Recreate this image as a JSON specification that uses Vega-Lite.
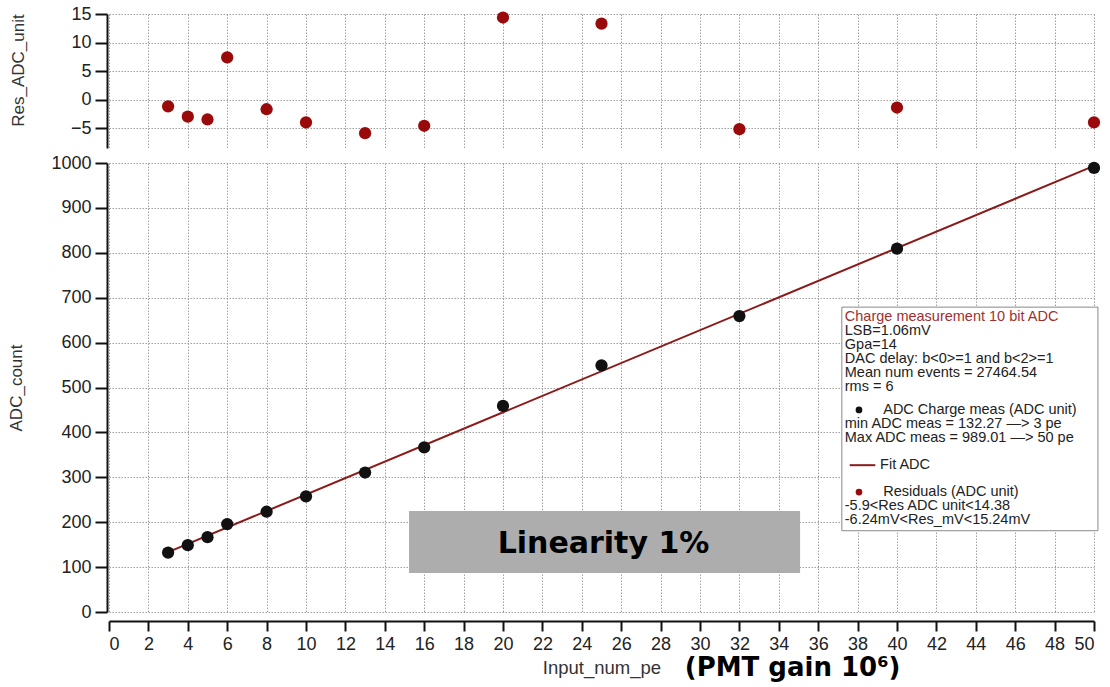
{
  "$schema": "https://vega.github.io/schema/vega-lite/v6.json",
  "padding": {"left": 7, "top": 5, "right": 5, "bottom": 5},
  "config": {
    "font": "Liberation Sans",
    "view": {"stroke": null},
    "axis": {"labelFontSize": 18, "labelColor": "#222", "titleFontSize": 17, "titleFontWeight": "normal", "titleColor": "#333", "domainColor": "#111", "domainWidth": 2, "tickColor": "#111", "tickWidth": 2, "tickSize": 12, "gridColor": "#a0a0a0", "gridDash": [1.5, 1.5], "gridWidth": 1, "gridOpacity": 1, "labelPadding": 4},
    "concat": {"spacing": 6}
  },
  "datasets": {
    "meas": [
      {"pe": 3, "adc": 132.27, "res": -1.2},
      {"pe": 4, "adc": 148.8, "res": -3.0},
      {"pe": 5, "adc": 166.6, "res": -3.5},
      {"pe": 6, "adc": 195.8, "res": 7.4},
      {"pe": 8, "adc": 223.3, "res": -1.7},
      {"pe": 10, "adc": 257.6, "res": -4.0},
      {"pe": 13, "adc": 310.6, "res": -5.9},
      {"pe": 16, "adc": 366.8, "res": -4.6},
      {"pe": 20, "adc": 459.0, "res": 14.38},
      {"pe": 25, "adc": 549.4, "res": 13.3},
      {"pe": 32, "adc": 659.0, "res": -5.2},
      {"pe": 40, "adc": 809.2, "res": -1.4},
      {"pe": 50, "adc": 989.01, "res": -4.0}
    ],
    "fit": [
      {"pe": 3, "adc": 133.5},
      {"pe": 50, "adc": 993.6}
    ],
    "legendBox": [{"pe": 37.2, "pe2": 50.2, "adc": 679, "adc2": 181}],
    "linBox": [{"pe": 15.23, "pe2": 35.08, "adc": 225, "adc2": 87}],
    "legendTitle": [{"pe": 37.35, "adc": 657, "t": "Charge measurement 10 bit ADC"}],
    "legendText": [
      {"pe": 37.35, "adc": 626, "t": "LSB=1.06mV"},
      {"pe": 37.35, "adc": 595, "t": "Gpa=14"},
      {"pe": 37.35, "adc": 564, "t": "DAC delay: b<0>=1 and b<2>=1"},
      {"pe": 37.35, "adc": 532, "t": "Mean num events = 27464.54"},
      {"pe": 37.35, "adc": 501, "t": "rms = 6"},
      {"pe": 39.3, "adc": 450, "t": "ADC Charge meas (ADC unit)"},
      {"pe": 37.35, "adc": 419, "t": "min ADC meas = 132.27 —> 3 pe"},
      {"pe": 37.35, "adc": 388, "t": "Max ADC meas = 989.01  —> 50 pe"},
      {"pe": 39.14, "adc": 327, "t": "Fit ADC"},
      {"pe": 39.3, "adc": 267, "t": "Residuals (ADC unit)"},
      {"pe": 37.35, "adc": 236, "t": "-5.9<Res ADC unit<14.38"},
      {"pe": 37.35, "adc": 205, "t": "-6.24mV<Res_mV<15.24mV"}
    ],
    "legendBlack": [{"pe": 38.07, "adc": 450}],
    "legendRed": [{"pe": 38.07, "adc": 267}],
    "legendLine": [{"pe": 37.6, "pe2": 38.9, "adc": 327}],
    "linText": [{"pe": 25.1, "adc": 152, "t": "Linearity 1%"}],
    "gainText": [{"pe": 34.7, "adc": -124, "t": "(PMT gain 10⁶)"}]
  },
  "vconcat": [
    {
      "width": 985,
      "height": 134,
      "data": {"name": "meas"},
      "mark": {"type": "point", "filled": true, "size": 150, "color": "#9b0a0a", "opacity": 1, "clip": false},
      "encoding": {
        "x": {"field": "pe", "type": "quantitative", "scale": {"domain": [0, 50], "nice": false},
          "axis": {"values": [0,2,4,6,8,10,12,14,16,18,20,22,24,26,28,30,32,34,36,38,40,42,44,46,48,50], "labels": false, "ticks": false, "domain": false, "title": null}},
        "y": {"field": "res", "type": "quantitative", "scale": {"domain": [-8.5, 15], "nice": false, "zero": false},
          "axis": {"values": [-5, 0, 5, 10, 15], "title": "Res_ADC_unit", "titlePadding": 43, "offset": 2, "titleY": 56}}
      }
    },
    {
      "width": 985,
      "height": 449,
      "encoding": {
        "x": {"field": "pe", "type": "quantitative", "scale": {"domain": [0, 50], "nice": false},
          "axis": {"values": [0,2,4,6,8,10,12,14,16,18,20,22,24,26,28,30,32,34,36,38,40,42,44,46,48,50], "title": "Input_num_pe", "titleFontSize": 18.5, "offset": 9, "tickSize": 10, "titlePadding": 5}},
        "y": {"field": "adc", "type": "quantitative", "scale": {"domain": [0, 1000], "nice": false},
          "axis": {"values": [0,100,200,300,400,500,600,700,800,900,1000], "format": "d", "title": "ADC_count", "titlePadding": 25, "offset": 2}}
      },
      "layer": [
        {
          "data": {"name": "legendBox"},
          "mark": {"type": "rect", "fill": "white", "stroke": "#888", "strokeWidth": 1, "clip": false},
          "encoding": {"x2": {"field": "pe2"}, "y2": {"field": "adc2"}}
        },
        {
          "data": {"name": "linBox"},
          "mark": {"type": "rect", "fill": "#adadad", "clip": false},
          "encoding": {"x2": {"field": "pe2"}, "y2": {"field": "adc2"}}
        },
        {
          "data": {"name": "fit"},
          "mark": {"type": "line", "color": "#8b1a1a", "strokeWidth": 2},
          "encoding": {}
        },
        {
          "data": {"name": "meas"},
          "mark": {"type": "point", "filled": true, "size": 150, "color": "#111", "opacity": 1}
        },
        {
          "data": {"name": "legendTitle"},
          "mark": {"type": "text", "align": "left", "baseline": "middle", "fontSize": 14.5, "color": "#a03030", "clip": false},
          "encoding": {"text": {"field": "t"}}
        },
        {
          "data": {"name": "legendText"},
          "mark": {"type": "text", "align": "left", "baseline": "middle", "fontSize": 14.5, "color": "#222", "clip": false},
          "encoding": {"text": {"field": "t"}}
        },
        {
          "data": {"name": "legendBlack"},
          "mark": {"type": "point", "filled": true, "size": 45, "color": "#111", "opacity": 1}
        },
        {
          "data": {"name": "legendRed"},
          "mark": {"type": "point", "filled": true, "size": 45, "color": "#9b0a0a", "opacity": 1}
        },
        {
          "data": {"name": "legendLine"},
          "mark": {"type": "rule", "color": "#8b1a1a", "strokeWidth": 2},
          "encoding": {"x2": {"field": "pe2"}}
        },
        {
          "data": {"name": "linText"},
          "mark": {"type": "text", "align": "center", "baseline": "middle", "fontSize": 30, "font": "DejaVu Sans", "fontWeight": "bold", "color": "#000"},
          "encoding": {"text": {"field": "t"}}
        },
        {
          "data": {"name": "gainText"},
          "mark": {"type": "text", "align": "center", "baseline": "middle", "fontSize": 26, "font": "DejaVu Sans", "fontWeight": "bold", "color": "#000", "clip": false},
          "encoding": {"text": {"field": "t"}}
        }
      ]
    }
  ]
}
